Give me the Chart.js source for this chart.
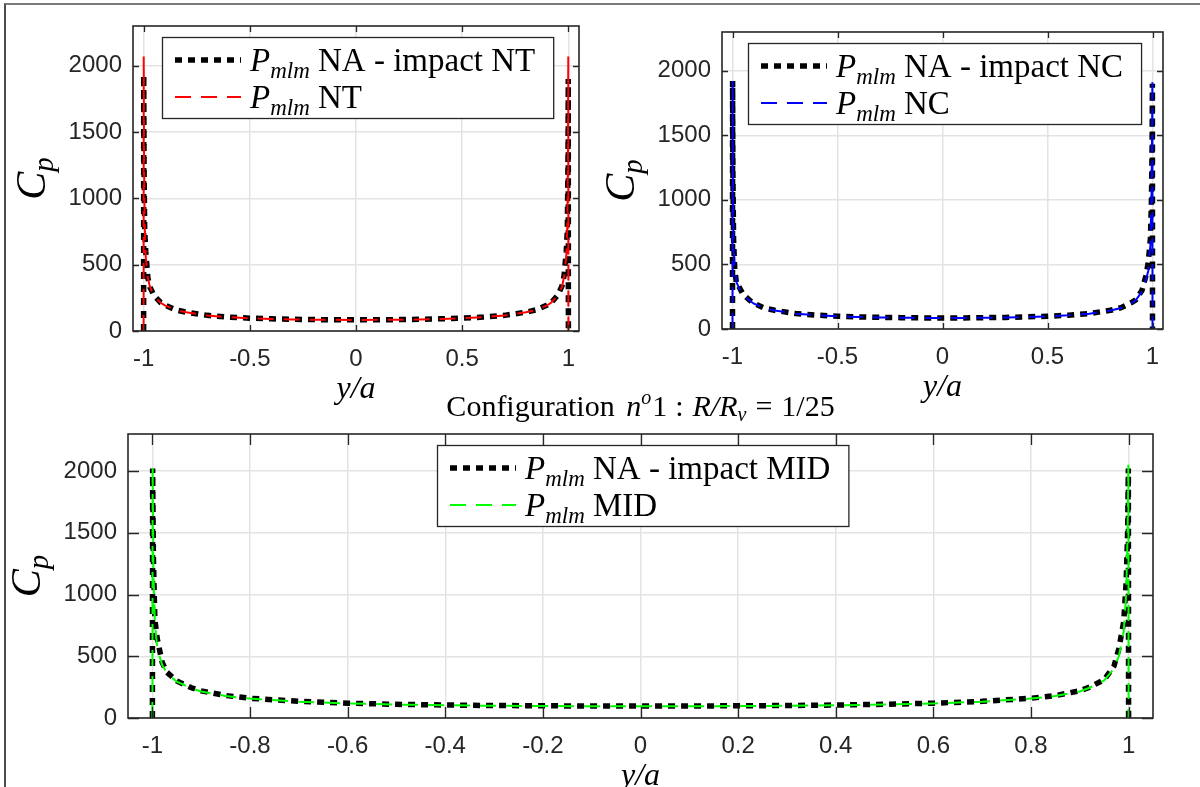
<!DOCTYPE html>
<html>
<head>
<meta charset="utf-8">
<script src="https://cdn.jsdelivr.net/npm/chart.js@4.4.1/dist/chart.umd.min.js"></script>
<style>
	html, body { margin: 0; padding: 0; background: #fff; }
	#page { position: relative; width: 1200px; height: 787px; overflow: hidden; background: #fff; }
	#page canvas { position: absolute; left: 0; top: 0; }
	#frame { position: absolute; left: 4px; top: 3px; width: 1300px; height: 900px; border-top: 2px solid #7a7a7a; border-left: 2px solid #4d4d4d; }
</style>
</head>
<body>
<div id="page">
	<div id="frame"></div>
	<canvas id="chartNT" width="1200" height="787"></canvas>
	<canvas id="chartNC" width="1200" height="787"></canvas>
	<canvas id="chartMID" width="1200" height="787"></canvas>
</div>
<script>
// abscisses y/a communes aux trois graphes
const yPos = [-1, -0.9995, -0.998, -0.995, -0.99, -0.98, -0.97, -0.95, -0.92, -0.9, -0.85, -0.8, -0.7, -0.6, -0.5, -0.4, -0.3, -0.2, -0.1, 0,
	0.1, 0.2, 0.3, 0.4, 0.5, 0.6, 0.7, 0.8, 0.85, 0.9, 0.92, 0.95, 0.97, 0.98, 0.99, 0.995, 0.998, 0.9995, 1];

// Cp - impact NT
const cpNA_NT = [0, 1930, 1250, 760, 600, 400, 330, 265, 215, 195, 160, 142, 118, 105, 97, 92, 88, 86, 84, 84,
	84, 86, 88, 92, 97, 105, 118, 142, 160, 195, 215, 270, 340, 420, 600, 760, 1250, 1900, 0];
const cpNT = [0, 2070, 1300, 800, 560, 400, 330, 262, 213, 193, 159, 141, 117, 104, 96, 91, 87, 85, 84, 83,
	84, 85, 87, 91, 96, 104, 117, 141, 159, 193, 215, 268, 335, 410, 560, 800, 1300, 2070, 0];

// Cp - impact NC
const cpNA_NC = [0, 1920, 1200, 700, 480, 335, 330, 270, 225, 200, 163, 145, 120, 107, 99, 94, 90, 88, 86, 86,
	86, 88, 90, 94, 99, 107, 120, 145, 165, 205, 225, 300, 420, 520, 700, 1000, 1400, 1900, 0];
const cpNC = [0, 1920, 1100, 650, 470, 360, 320, 265, 222, 198, 162, 144, 119, 106, 98, 93, 89, 87, 86, 85,
	86, 87, 89, 93, 98, 106, 119, 144, 163, 200, 222, 290, 390, 450, 650, 1000, 1500, 1940, 0];

// Cp - impact MID
const cpNA_MID = [0, 2020, 1300, 800, 640, 450, 370, 300, 245, 220, 182, 160, 135, 120, 111, 105, 101, 99, 97, 97,
	97, 99, 101, 105, 111, 120, 135, 160, 182, 220, 250, 310, 420, 560, 780, 1100, 1500, 2020, 0];
const cpMID = [0, 2040, 1200, 780, 560, 430, 360, 295, 240, 215, 178, 157, 132, 118, 109, 103, 99, 97, 95, 95,
	95, 97, 99, 103, 109, 118, 132, 157, 178, 215, 245, 305, 400, 500, 700, 1000, 1500, 2050, 0];

// graduations
const ticksTop = [-1, -0.5, 0, 0.5, 1];
const ticksBottom = [-1, -0.8, -0.6, -0.4, -0.2, 0, 0.2, 0.4, 0.6, 0.8, 1];
const ticksCp = [0, 500, 1000, 1500, 2000];

const SERIF = '"Liberation Serif", "Times New Roman", serif';
const SANS = '"Liberation Sans", Arial, Helvetica, sans-serif';
const AXIS_COLOR = "#262626";

function toPoints(xs, ys) {
	return xs.map((x, i) => ({ x: x, y: ys[i] }));
}

function partFont(p) {
	return (p.it ? "italic " : "") + p.size + "px " + SERIF;
}

function richWidth(ctx, parts) {
	let w = 0;
	parts.forEach((p) => {
		ctx.font = partFont(p);
		w += ctx.measureText(p.t).width + (p.gap || 0);
	});
	return w;
}

// texte "LaTeX" : morceaux italiques / indices / exposants
function drawRich(ctx, parts, x, y, align) {
	const w = richWidth(ctx, parts);
	let cx = align === "center" ? x - w / 2 : x;
	ctx.textAlign = "left";
	ctx.textBaseline = "alphabetic";
	parts.forEach((p) => {
		ctx.font = partFont(p);
		ctx.fillText(p.t, cx, y + (p.dy || 0));
		cx += ctx.measureText(p.t).width + (p.gap || 0);
	});
	return w;
}

function pmlm(rest) {
	return [
		{ t: "P", it: true, size: 33 },
		{ t: "mlm", it: true, size: 23, dy: 7 },
		{ t: " " + rest, size: 33 },
	];
}

const blackStyle = { color: "#000000", width: 5.5, dash: [7, 6] };

// axes façon MATLAB : cadre, graduations intérieures, légende, titres
const matlabAxes = {
	id: "matlabAxes",
	afterDraw(chart, args, opts) {
		const ctx = chart.ctx;
		const a = chart.chartArea;
		const xs = chart.scales.x;
		const ys = chart.scales.y;
		ctx.save();

		// graduations vers l'intérieur
		ctx.strokeStyle = AXIS_COLOR;
		ctx.lineWidth = 1.3;
		ctx.beginPath();
		opts.xTicks.forEach((v) => {
			const px = Math.round(xs.getPixelForValue(v)) + 0.5;
			ctx.moveTo(px, a.bottom);
			ctx.lineTo(px, a.bottom - opts.tickLen);
			ctx.moveTo(px, a.top);
			ctx.lineTo(px, a.top + opts.tickLen);
		});
		ticksCp.forEach((v) => {
			const py = Math.round(ys.getPixelForValue(v)) + 0.5;
			ctx.moveTo(a.left, py);
			ctx.lineTo(a.left + opts.tickLen, py);
			ctx.moveTo(a.right, py);
			ctx.lineTo(a.right - opts.tickLen, py);
		});
		ctx.stroke();
		ctx.lineWidth = 1.6;
		ctx.strokeRect(a.left, a.top, a.right - a.left, a.bottom - a.top);

		// légende
		const rows = [
			{ parts: pmlm("NA - impact " + opts.name), style: blackStyle },
			{ parts: pmlm(opts.name), style: opts.colorStyle },
		];
		const textW = richWidth(ctx, rows[0].parts);
		const boxW = 88 + textW + 18;
		const boxH = 81;
		const boxL = Math.round((a.left + a.right) / 2 + 2 - boxW / 2);
		const boxT = a.top + 11;
		ctx.fillStyle = "#ffffff";
		ctx.fillRect(boxL, boxT, boxW, boxH);
		ctx.strokeStyle = AXIS_COLOR;
		ctx.lineWidth = 1.3;
		ctx.strokeRect(boxL + 0.5, boxT + 0.5, boxW, boxH);
		rows.forEach((r, i) => {
			const cy = boxT + (i === 0 ? 23 : 60);
			ctx.save();
			ctx.strokeStyle = r.style.color;
			ctx.lineWidth = r.style.width;
			ctx.setLineDash(r.style.dash);
			ctx.beginPath();
			ctx.moveTo(boxL + 13, cy);
			ctx.lineTo(boxL + 79, cy);
			ctx.stroke();
			ctx.restore();
			ctx.fillStyle = "#000000";
			drawRich(ctx, r.parts, boxL + 88, cy + 11, "left");
		});

		// titre de l'axe y : C_p
		ctx.fillStyle = "#000000";
		ctx.save();
		ctx.translate(a.left - 88, (a.top + a.bottom) / 2);
		ctx.rotate(-Math.PI / 2);
		drawRich(ctx, [{ t: "C", it: true, size: 42 }, { t: "p", it: true, size: 29, dy: 8 }], 0, 0, "center");
		ctx.restore();

		// titre de l'axe x : y/a
		drawRich(ctx, [{ t: "y/a", it: true, size: 32 }], (a.left + a.right) / 2, a.bottom + 67, "center");

		if (opts.title) {
			drawRich(ctx, opts.title, (a.left + a.right) / 2, a.top - 18, "center");
		}
		ctx.restore();
	},
};

function makeChart(id, pad, yWidth, xTicks, tickLen, seriesNA, seriesRef, name, colorStyle, title) {
	const ctx = document.getElementById(id);
	const config = {
		type: "line",
		data: {
			datasets: [
				{
					label: "Pmlm " + name,
					data: toPoints(yPos, seriesRef),
					borderColor: colorStyle.color,
					borderWidth: colorStyle.width,
					borderDash: colorStyle.dash,
					pointRadius: 0,
					tension: 0,
					fill: false,
				},
				{
					label: "Pmlm NA - impact " + name,
					data: toPoints(yPos, seriesNA),
					borderColor: blackStyle.color,
					borderWidth: blackStyle.width,
					borderDash: blackStyle.dash,
					borderCapStyle: "butt",
					pointRadius: 0,
					tension: 0,
					fill: false,
				},
			],
		},
		options: {
			responsive: false,
			animation: false,
			events: [],
			layout: { padding: pad },
			plugins: {
				legend: { display: false },
				tooltip: { enabled: false },
				matlabAxes: { xTicks: xTicks, tickLen: tickLen, name: name, colorStyle: colorStyle, title: title },
			},
			scales: {
				x: {
					type: "linear",
					min: -1.05,
					max: 1.05,
					afterBuildTicks: (s) => {
						s.ticks = xTicks.map((v) => ({ value: v }));
					},
					afterFit: (s) => {
						s.height = 69;
					},
					ticks: {
						autoSkip: false,
						maxRotation: 0,
						padding: 14,
						color: AXIS_COLOR,
						font: { family: SANS, size: 24 },
						callback: (v) => String(v),
					},
					grid: { color: "#e3e3e3", lineWidth: 1.5, drawTicks: false },
					border: { display: false },
				},
				y: {
					type: "linear",
					min: 0,
					max: 2300,
					afterBuildTicks: (s) => {
						s.ticks = ticksCp.map((v) => ({ value: v }));
					},
					afterFit: (s) => {
						s.width = yWidth;
					},
					ticks: {
						padding: 11,
						color: AXIS_COLOR,
						font: { family: SANS, size: 24 },
						callback: (v) => String(v),
					},
					grid: { color: "#e3e3e3", lineWidth: 1.5, drawTicks: false },
					border: { display: false },
				},
			},
		},
		plugins: [matlabAxes],
	};
	return new Chart(ctx, config);
}

const titleParts = [
	{ t: "Configuration ", size: 30, gap: 4 },
	{ t: "n", it: true, size: 30 },
	{ t: "o", it: true, size: 20, dy: -12, gap: 1 },
	{ t: "1", size: 30, gap: 8 },
	{ t: ":", size: 30, gap: 9 },
	{ t: "R/R", it: true, size: 30 },
	{ t: "v", it: true, size: 20, dy: 5, gap: 9 },
	{ t: "=", size: 30, gap: 9 },
	{ t: "1/25", size: 30 },
];

makeChart("chartNT", { left: 0, top: 26, right: 621, bottom: 387 }, 133, ticksTop, 6,
	cpNA_NT, cpNT, "NT", { color: "#ff0000", width: 2, dash: [16, 10] }, null);
makeChart("chartNC", { left: 589, top: 32, right: 37, bottom: 389 }, 133, ticksTop, 6,
	cpNA_NC, cpNC, "NC", { color: "#0000ff", width: 2, dash: [16, 10] }, null);
makeChart("chartMID", { left: 0, top: 434, right: 47, bottom: 0 }, 128, ticksBottom, 11,
	cpNA_MID, cpMID, "MID", { color: "#00ff00", width: 2, dash: [16, 10] }, titleParts);
</script>
</body>
</html>
